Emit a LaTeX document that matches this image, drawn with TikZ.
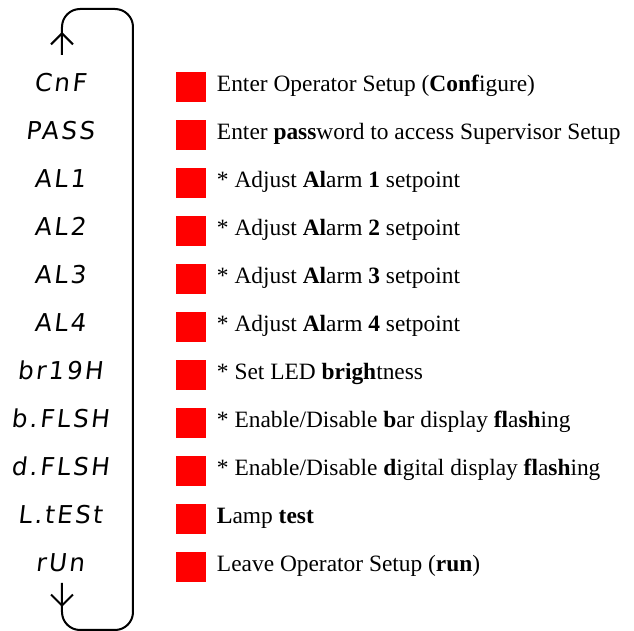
\documentclass[tikz,border=0pt]{standalone}
\usepackage{fontspec}
\setmainfont{Liberation Serif}
\newfontfamily\segfont{DejaVu Sans}[LetterSpace=10,FakeSlant=0.12]
\usetikzlibrary{arrows.meta}
\tikzset{
  disp/.style={anchor=base,inner sep=0pt,font=\segfont\fontsize{12.3}{14}\selectfont},
  desc/.style={anchor=base west,inner sep=0pt,font=\fontsize{11.7}{14}\selectfont},
  keybox/.style={fill=red,minimum size=15pt,inner sep=0pt},
  barb/.style={-{Straight Barb[length=5.5pt,width=11pt]}}
}

\begin{document}
\begin{tikzpicture}[x=0.5pt,y=-0.5pt,line width=1pt]
			\useasboundingbox (0,0) rectangle (634,631);
			\node[disp] (cnf) at (60,92) {CnF};
			\node[disp] (pass) at (60,140) {PASS};
			\node[disp] (al1) at (60,188) {AL1};
			\node[disp] (al2) at (60,236) {AL2};
			\node[disp] (al3) at (60,284) {AL3};
			\node[disp] (al4) at (60,332) {AL4};
			\node[disp] (brigh) at (60,380) {br19H};
			\node[disp] (bflsh) at (60,428) {b.FLSH};
			\node[disp] (dflsh) at (60,476) {d.FLSH};
			\node[disp] (ltest) at (60,524) {L.tESt};
			\node[disp] (run) at (60,572) {rUn};
				\node[keybox] (k1) at (191,87) {};
				\node[keybox] (k2) at (191,135) {};
				\node[keybox] (k3) at (191,183) {};
				\node[keybox] (k4) at (191,231) {};
				\node[keybox] (k5) at (191,279) {};
				\node[keybox] (k6) at (191,327) {};
				\node[keybox] (k7) at (191,375) {};
				\node[keybox] (k8) at (191,423) {};
				\node[keybox] (k9) at (191,471) {};
				\node[keybox] (k10) at (191,519) {};
				\node[keybox] (k11) at (191,567) {};
			\node[desc] (t1) at (216,92) {Enter Operator Setup (\textbf{Conf}igure)};
			\node[desc] (t2) at (216,140) {Enter \textbf{pass}word to access Supervisor Setup};
			\node[desc] (t3) at (216,188) {* Adjust \textbf{Al}arm \textbf{1} setpoint};
			\node[desc] (t4) at (216,236) {* Adjust \textbf{Al}arm \textbf{2} setpoint};
			\node[desc] (t5) at (216,284) {* Adjust \textbf{Al}arm \textbf{3} setpoint};
			\node[desc] (t6) at (216,332) {* Adjust \textbf{Al}arm \textbf{4} setpoint};
			\node[desc] (t7) at (216,380) {* Set LED \textbf{brigh}tness};
			\node[desc] (t8) at (216,428) {* Enable/Disable \textbf{b}ar display \textbf{fl}a\textbf{sh}ing};
			\node[desc] (t9) at (216,476) {* Enable/Disable \textbf{d}igital display \textbf{fl}a\textbf{sh}ing};
			\node[desc] (t10) at (216,524) {\textbf{L}amp \textbf{test}};
			\node[desc] (t11) at (216,572) {Leave Operator Setup (\textbf{run})};
			\coordinate (up) at (62,55);
			\coordinate (down) at (62,583);
			\draw[rounded corners=9pt] (down) -- (62,630) -- (133,630) -- (133,9) -- (62,9) -- (up);
			\draw[barb] (up) -- (62,32);
			\draw[barb] (down) -- (62,607);
		\end{tikzpicture}
\end{document}
